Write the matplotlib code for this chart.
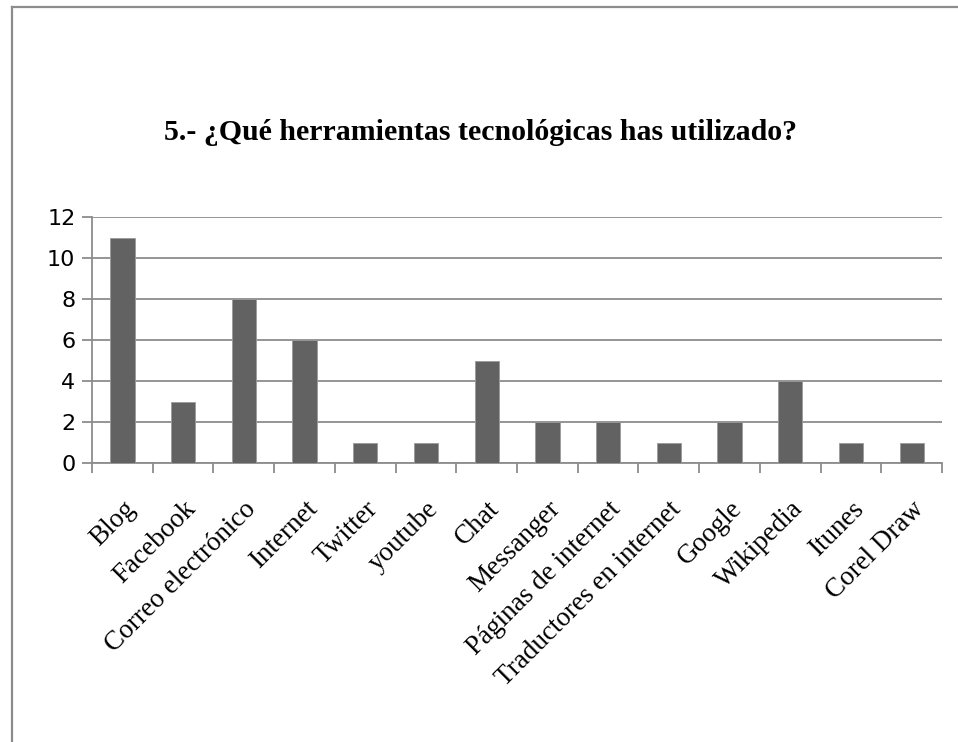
import matplotlib
matplotlib.use("Agg")
import matplotlib.pyplot as plt
from matplotlib.lines import Line2D
import numpy as np

categories = ["Blog", "Facebook", "Correo electrónico", "Internet", "Twitter", "youtube",
              "Chat", "Messanger", "Páginas de internet", "Traductores en internet",
              "Google", "Wikipedia", "Itunes", "Corel Draw"]
values = [11, 3, 8, 6, 1, 1, 5, 2, 2, 1, 2, 4, 1, 1]
yticks = [0, 2, 4, 6, 8, 10, 12]
title = "5.- ¿Qué herramientas tecnológicas has utilizado?"

W, H = 958, 742
fig = plt.figure(figsize=(W / 100, H / 100), dpi=100)
fig.patch.set_facecolor("white")

# outer frame (left and top lines)
fig.add_artist(Line2D([12 / W, 12 / W], [0, 1 - 7 / H], transform=fig.transFigure,
                      color="#8c8c8c", lw=1.6))
fig.add_artist(Line2D([12 / W, 1], [1 - 7 / H, 1 - 7 / H], transform=fig.transFigure,
                      color="#8c8c8c", lw=1.6))

ax = fig.add_axes([92 / W, 1 - 463 / H, (942 - 92) / W, (463 - 217) / H])
x = np.arange(len(categories))
ax.bar(x, values, width=0.4, color="#626262", edgecolor="#9a9a9a", linewidth=0.6, zorder=3)
ax.set_xlim(-0.5, len(categories) - 0.5)
ax.set_ylim(0, 12)
ax.set_yticks(yticks)
ax.set_yticklabels([str(t) for t in yticks], fontfamily="DejaVu Sans", fontsize=16)
ax.yaxis.grid(True, color="#8c8c8c", linewidth=1.3, zorder=0)
ax.set_axisbelow(True)

ax.set_xticks(x)
ax.set_xticklabels(categories, rotation=45, ha="right", va="top", rotation_mode="anchor",
                   fontfamily="Liberation Serif", fontsize=19.5)
ax.tick_params(axis="x", which="major", length=0, pad=24)
ax.set_xticks(np.arange(-0.5, len(categories), 1.0), minor=True)
ax.tick_params(axis="x", which="minor", length=7, width=1.3, color="#8c8c8c")
ax.tick_params(axis="y", length=7, width=1.3, color="#8c8c8c", pad=5)

for s in ["top", "right"]:
    ax.spines[s].set_visible(False)
for s in ["left", "bottom"]:
    ax.spines[s].set_color("#8c8c8c")
    ax.spines[s].set_linewidth(1.3)

fig.text(480 / W, 1 - 133 / H, title, ha="center", va="center",
         fontfamily="Liberation Serif", fontweight="bold", fontsize=21.5)

fig.savefig("out.png", dpi=100)
